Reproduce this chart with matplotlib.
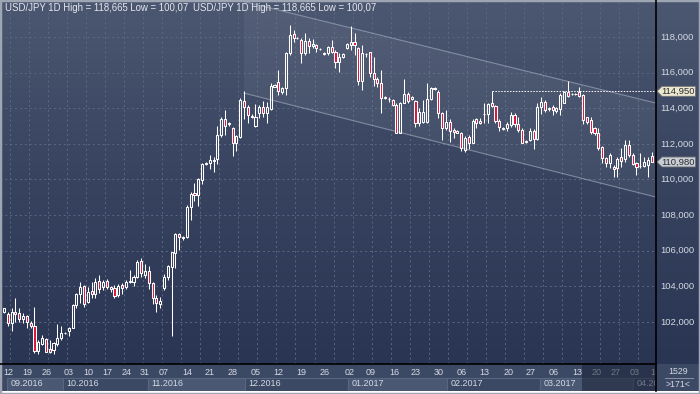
import numpy as np
import matplotlib.pyplot as plt
from matplotlib.patches import Polygon, Rectangle
from matplotlib.lines import Line2D
from matplotlib.colors import LinearSegmentedColormap

plt.rcParams['font.family'] = ['Liberation Sans', 'DejaVu Sans']

# USD/JPY daily bars, oldest first (171 bars on screen)
opens = [
    102.57, 102.42, 101.91, 102.57, 102.48, 102.14, 102.31, 101.91, 101.76, 100.36,
    100.73, 101.03, 100.47, 100.42, 100.73, 101.07, 101.35, 101.48, 101.67, 102.94,
    103.54, 104.01, 103.13, 103.73, 103.54, 104.29, 103.97, 104.29, 103.84, 103.92,
    103.51, 104.05, 103.97, 104.25, 104.25, 104.54, 105.43, 104.63, 104.85, 104.16,
    103.32, 103.00, 103.88, 104.50, 105.10, 105.88, 106.91, 106.74, 106.74, 108.43,
    109.25, 109.12, 109.97, 110.88, 110.90, 111.05, 111.13, 112.50, 113.37, 113.09,
    112.87, 112.06, 112.40, 114.42, 114.05, 113.58, 113.00, 113.75, 114.05, 113.75,
    113.94, 115.21, 115.45, 114.93, 115.12, 117.12, 118.17, 117.92, 117.83, 117.12,
    117.79, 117.49, 117.55, 117.33, 117.02, 117.08, 117.42, 117.18, 116.62, 116.86,
    117.36, 117.55, 117.74, 117.36, 115.55, 117.05, 117.14, 115.99, 115.62, 115.43,
    114.62, 114.50, 114.46, 114.18, 112.62, 114.31, 114.80, 114.50, 114.42, 113.15,
    113.24, 113.24, 114.50, 115.12, 114.93, 113.71, 112.87, 113.24, 112.77, 112.72,
    112.59, 111.65, 112.36, 112.06, 113.37, 113.30, 113.69, 113.67, 114.27, 114.12,
    113.28, 112.81, 112.87, 113.06, 113.62, 113.09, 112.77, 112.12, 112.21, 112.74,
    112.29, 114.05, 114.37, 113.94, 114.05, 113.86, 113.94, 114.31, 114.93, 114.80,
    114.80, 114.93, 114.74, 113.49, 113.34, 112.87, 112.59, 111.80, 111.18, 110.94,
    110.72, 110.62, 111.24, 111.13, 111.93, 111.37, 110.90, 110.77, 110.77, 110.81,
    111.32]
highs = [
    102.79, 102.53, 102.79, 103.36, 102.76, 102.48, 102.38, 102.05, 102.81, 100.98,
    101.26, 101.11, 100.98, 100.85, 101.86, 101.78, 101.40, 101.73, 102.98, 103.60,
    104.26, 104.07, 103.97, 104.26, 104.44, 104.63, 104.35, 104.41, 104.03, 104.07,
    104.10, 104.20, 104.35, 104.91, 104.63, 105.47, 105.60, 105.25, 105.13, 104.25,
    103.51, 103.41, 104.69, 105.19, 105.94, 107.01, 107.01, 106.82, 108.56, 109.31,
    109.82, 110.06, 110.94, 110.98, 111.37, 111.25, 113.00, 113.49, 113.90, 113.24,
    112.96, 112.50, 114.55, 114.98, 114.18, 113.66, 114.24, 114.18, 114.42, 114.37,
    115.43, 115.36, 116.15, 115.21, 117.18, 118.67, 118.39, 118.00, 117.92, 118.21,
    117.92, 117.87, 117.61, 117.38, 117.16, 117.49, 117.83, 117.27, 117.08, 117.08,
    117.64, 118.62, 118.21, 117.46, 117.55, 117.08, 117.18, 116.86, 115.73, 116.15,
    114.70, 114.61, 114.50, 114.27, 114.37, 115.62, 114.93, 114.66, 114.46, 113.99,
    114.46, 115.40, 115.17, 115.21, 115.02, 113.80, 113.90, 113.37, 112.87, 112.78,
    112.68, 112.44, 112.49, 113.37, 113.43, 113.45, 114.27, 114.31, 114.98, 114.18,
    113.37, 112.96, 113.24, 113.80, 113.75, 113.52, 112.87, 112.21, 112.87, 112.81,
    114.27, 114.61, 114.46, 114.09, 114.18, 114.09, 114.87, 114.98, 115.53, 114.86,
    114.85, 115.21, 114.80, 113.52, 113.52, 112.96, 112.87, 111.88, 111.28, 111.46,
    110.81, 111.24, 111.75, 112.21, 112.21, 111.46, 111.00, 111.46, 111.28, 111.24,
    111.56]
lows = [
    102.48, 101.78, 101.48, 102.01, 102.01, 101.91, 101.67, 101.67, 100.23, 100.17,
    100.70, 100.29, 100.23, 100.17, 100.66, 100.98, 101.33, 101.22, 101.63, 102.76,
    103.04, 102.85, 103.04, 103.32, 103.36, 103.60, 103.79, 103.82, 103.69, 103.32,
    103.41, 103.56, 103.84, 104.16, 104.03, 104.44, 104.50, 104.44, 103.82, 103.00,
    102.57, 102.76, 103.79, 104.35, 101.22, 105.00, 106.03, 106.59, 106.69, 107.72,
    108.79, 108.50, 109.74, 110.83, 110.60, 110.40, 110.85, 112.40, 112.50, 113.00,
    111.31, 111.62, 112.31, 113.37, 113.15, 113.43, 112.96, 113.43, 113.52, 113.15,
    113.90, 115.21, 114.74, 114.80, 114.74, 116.99, 117.74, 117.87, 116.52, 116.99,
    117.08, 117.36, 117.17, 117.28, 116.99, 116.99, 117.08, 116.24, 116.05, 116.82,
    117.31, 117.27, 116.99, 115.30, 115.02, 116.90, 115.77, 115.25, 115.21, 113.75,
    114.52, 114.37, 114.12, 112.59, 112.59, 114.27, 114.27, 114.46, 112.96, 113.00,
    113.15, 113.15, 114.46, 115.02, 113.43, 112.21, 112.77, 112.12, 112.31, 112.58,
    111.61, 111.56, 111.69, 112.03, 112.87, 113.10, 113.19, 113.19, 114.05, 113.15,
    112.74, 112.77, 112.74, 112.96, 112.96, 112.68, 112.03, 112.06, 112.16, 111.69,
    112.21, 113.67, 113.80, 113.86, 113.62, 113.71, 113.62, 114.27, 114.65, 114.75,
    114.76, 114.61, 113.11, 113.11, 112.55, 112.49, 111.65, 110.90, 110.72, 110.62,
    110.12, 110.16, 110.72, 111.00, 111.28, 110.81, 110.25, 110.62, 110.68, 110.12,
    110.99]
closes = [
    102.76, 101.91, 102.57, 102.46, 102.16, 102.33, 101.97, 101.75, 100.36, 100.85,
    101.07, 100.32, 100.32, 100.79, 101.07, 101.35, 101.37, 101.67, 102.94, 103.54,
    103.97, 103.00, 103.69, 103.54, 104.22, 103.82, 104.26, 103.94, 103.97, 103.47,
    104.03, 103.88, 104.25, 104.28, 104.54, 105.38, 104.76, 104.85, 104.16, 103.32,
    103.04, 103.17, 104.54, 105.13, 105.92, 106.93, 106.74, 106.73, 108.47, 109.18,
    109.12, 110.00, 110.86, 110.90, 111.09, 111.07, 112.50, 113.37, 113.00, 113.19,
    112.06, 112.44, 114.46, 114.05, 113.62, 113.49, 113.52, 114.05, 113.75, 114.05,
    115.25, 115.30, 114.98, 115.12, 117.12, 118.11, 117.92, 117.95, 117.12, 117.79,
    117.49, 117.60, 117.36, 117.32, 117.12, 117.42, 117.18, 116.62, 116.86, 117.03,
    117.61, 117.70, 117.55, 115.55, 117.12, 117.04, 115.99, 115.62, 115.40, 114.55,
    114.60, 114.49, 114.18, 112.62, 114.27, 114.80, 114.42, 114.61, 113.15, 113.80,
    113.80, 114.50, 115.12, 115.10, 113.71, 112.87, 113.24, 112.74, 112.68, 112.62,
    111.75, 112.31, 112.03, 113.30, 113.19, 113.18, 113.67, 114.24, 114.12, 113.28,
    112.96, 112.90, 113.11, 113.62, 113.09, 112.77, 112.06, 112.18, 112.74, 112.29,
    114.09, 114.37, 113.90, 114.00, 113.90, 113.99, 114.74, 114.93, 114.68, 114.82,
    114.80, 114.68, 113.34, 113.24, 112.68, 112.59, 111.75, 111.18, 110.94, 111.37,
    110.57, 111.13, 111.05, 111.93, 111.37, 110.87, 110.72, 110.76, 111.00, 111.09,
    110.98]

# weekly date labels (bar index where they sit) and month bands
day_labels = ['12', '19', '26', '03', '10', '17', '24', '31', '07', '14', '21', '28',
              '05', '12', '19', '26', '02', '09', '16', '23', '30', '06', '13', '20',
              '27', '06', '13', '20', '27', '03', '10']
day_pos = [1.1, 6.1, 11.1, 17.0, 22.1, 27.2, 32.1, 36.9, 42.0, 48.2, 53.9, 60.1,
           66.1, 72.1, 78.0, 84.1, 90.8, 96.3, 102.4, 108.1, 114.2, 120.1, 126.2, 132.4,
           138.3, 144.4, 150.4, 155.4, 160.4, 165.4, 170.9]
months = ['09.2016', '10.2016', '11.2016', '12.2016', '01.2017', '02.2017', '03.2017', '04.2017']
month_edges = [0.8, 15.5, 37.8, 63.3, 90.3, 116.3, 140.7, 165.2, 172.5]

price_levels = [102, 104, 106, 108, 110, 112, 114, 116, 118]
marked_level = 114.95
marked_from = 128
last_price = 110.98

# trend channel anchors (bar, price)
chan_upper = [(63.0, 119.99), (171.1, 114.29)]
chan_lower = [(63.0, 114.85), (171.1, 109.01)]

W, H = 700, 394
XLIM = (-1.05, 171.13)
YLIM = (99.63, 120.08)
TXT = '#d4dae3'

fig = plt.figure(figsize=(7, 3.94), dpi=100)

bg = fig.add_axes([0, 0, 1, 1])
bg.set_axis_off()
bg.set_xlim(0, 1)
bg.set_ylim(0, 1)
cmap = LinearSegmentedColormap.from_list('bg', ['#4c5771', '#37435f', '#2a3553'])
bg.imshow(np.linspace(0, 1, 256).reshape(-1, 1), aspect='auto', cmap=cmap,
          extent=[0, 1, 30 / H, 1], origin='upper')

ax = fig.add_axes([0, 30 / H, 656 / W, 364 / H])
ax.patch.set_alpha(0)
ax.set_xlim(*XLIM)
ax.set_ylim(*YLIM)
ax.set_yticks(price_levels)
ax.set_xticks(np.arange(1.5, 171, 5))
ax.tick_params(length=0, labelbottom=False, labelleft=False)
ax.grid(True, color='#5c6882', ls=(0, (2, 3)), lw=0.7)
ax.set_axisbelow(True)
for s in ax.spines.values():
    s.set_visible(False)

# channel
ax.add_patch(Polygon([chan_upper[0], chan_upper[1], chan_lower[1], chan_lower[0]],
                     facecolor='white', alpha=0.05, edgecolor='none', zorder=1))
for ln in (chan_upper, chan_lower):
    ax.plot([ln[0][0], ln[1][0]], [ln[0][1], ln[1][1]], color='#9aa4b8', lw=0.8,
            alpha=0.7, zorder=2)

ax.plot([marked_from, XLIM[1]], [marked_level, marked_level], color='white', lw=0.7,
        ls=(0, (1.5, 1.5)), zorder=2)

# candles
o, h, l, c = map(np.array, (opens, highs, lows, closes))
x = np.arange(len(o))
up = c >= o
top = np.maximum(o, c)
bot = np.minimum(o, c)
body = np.maximum(top - bot, 0.015)
ax.vlines(x, top, h, color='white', lw=0.75, zorder=3)
ax.vlines(x, l, bot, color='white', lw=0.75, zorder=3)
ax.bar(x[up], body[up], bottom=bot[up], width=0.55, facecolor='none',
       edgecolor='white', lw=0.75, zorder=4)
ax.bar(x[~up], body[~up], bottom=bot[~up], width=0.55, facecolor='#dc143c',
       edgecolor='white', lw=0.75, zorder=4)

title = 'USD/JPY 1D High = 118,665 Low = 100,07'
fig.text(5 / W, 1 - 8 / H, title, color='#e4e7ed', fontsize=6.9, va='center', ha='left')
fig.text(193 / W, 1 - 8 / H, title, color='#e4e7ed', fontsize=6.9, va='center', ha='left')

# right price scale
axr = fig.add_axes([656 / W, 30 / H, 44 / W, 364 / H])
axr.set_axis_off()
axr.set_xlim(0, 44)
axr.set_ylim(*YLIM)
for v in price_levels:
    axr.text(4, v, f'{v:.3f}'.replace('.', ','), color=TXT, fontsize=6.8,
             va='center', ha='left')
px = (YLIM[1] - YLIM[0]) / 364
for v, face in ((marked_level, '#ece7cf'), (last_price, '#c9cdd4')):
    axr.add_patch(Polygon([(1, v), (6, v + 5 * px), (39.5, v + 5 * px),
                           (39.5, v - 5 * px), (6, v - 5 * px)],
                          facecolor=face, edgecolor='#6d6f72', lw=0.6, zorder=5))
    axr.text(22.5, v, f'{v:.3f}'.replace('.', ','), color='#2b2d33', fontsize=6.8,
             va='center', ha='center', zorder=6)

# date strip
axb = fig.add_axes([0, 3 / H, 656 / W, 27 / H])
axb.set_xlim(*XLIM)
axb.set_ylim(0, 27)
axb.set_facecolor('#3c4965')
axb.set_xticks([])
axb.set_yticks([])
for s in axb.spines.values():
    s.set_visible(False)
for lab, p in zip(day_labels, day_pos):
    axb.text(p, 18.5, lab, color=TXT, fontsize=6.5, ha='center', va='center', clip_on=True)
for i, lab in enumerate(months):
    a, b = month_edges[i], month_edges[i + 1]
    axb.add_patch(Rectangle((a, 0.4), b - a, 13, facecolor='#4a5873' if i % 2 == 0 else '#3c4965',
                            edgecolor='#58667f', lw=0.8))
    axb.text(a + 0.9, 7, lab, color=TXT, fontsize=6.5, ha='left', va='center', clip_on=True)
axb.add_patch(Rectangle((151.7, 0), 25, 27, facecolor='#1b2438', alpha=0.55, zorder=5))

axbr = fig.add_axes([656 / W, 3 / H, 44 / W, 27 / H])
axbr.set_xlim(0, 44)
axbr.set_ylim(0, 27)
axbr.set_facecolor('#3c4965')
axbr.set_xticks([])
axbr.set_yticks([])
for s in axbr.spines.values():
    s.set_visible(False)
axbr.text(22, 20, '1529', color=TXT, fontsize=6.3, ha='center', va='center')
axbr.plot([9, 37], [13.3, 13.3], color='#8a94a6', lw=0.7)
axbr.text(22, 6.5, '>171<', color=TXT, fontsize=6.3, ha='center', va='center')

fig.add_artist(Line2D([656 / W, 656 / W], [3 / H, 1], color='black', lw=1.2))
fig.add_artist(Line2D([0, 656 / W], [30 / H, 30 / H], color='black', lw=1.2))
fig.add_artist(Rectangle((0, 0), 1, 1, transform=fig.transFigure, fill=False,
                         edgecolor='#9ea6b4', lw=2.5))

fig.savefig('out.png', dpi=100)
